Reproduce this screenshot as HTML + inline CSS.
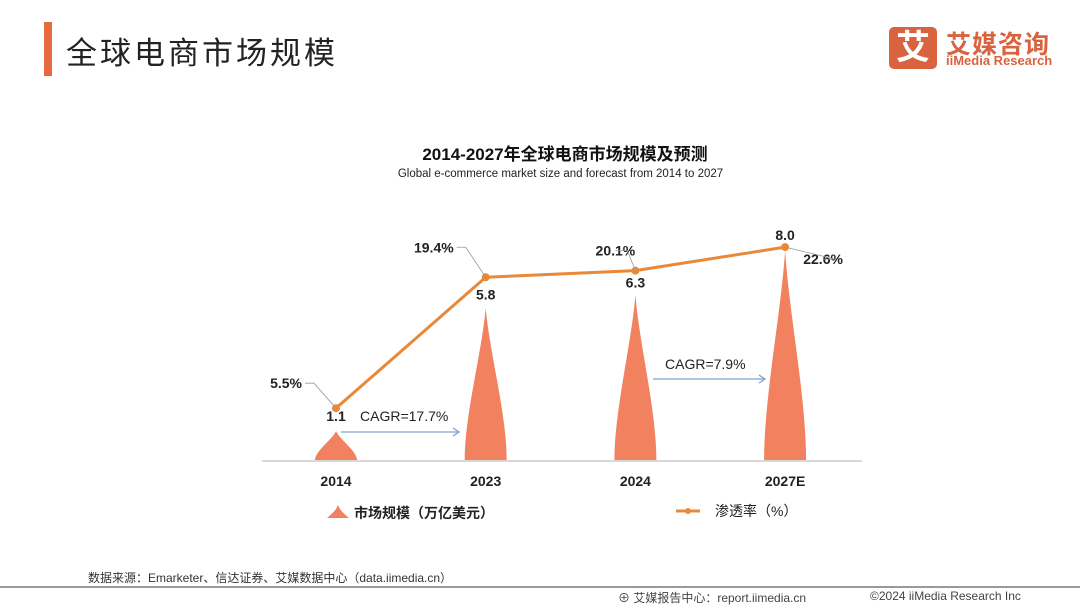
<!DOCTYPE html>
<html><head><meta charset="utf-8">
<style>
body{margin:0;width:1080px;height:608px;background:#fff;overflow:hidden;position:relative;font-family:"Liberation Sans","Noto Sans CJK SC",sans-serif}
.abs{position:absolute;white-space:nowrap}
</style></head><body>
<div class="abs" style="left:44px;top:22px;width:8px;height:54px;background:#E8683F"></div>
<div class="abs" style="left:66px;top:28px;font-size:31px;color:#222;letter-spacing:3px">全球电商市场规模</div>
<div class="abs" style="left:889px;top:27px;width:48px;height:42px;background:#D9633F;border-radius:5px;color:#fff;font-size:34px;line-height:42px;text-align:center;font-weight:bold">艾</div>
<div class="abs" style="left:946px;top:25px;font-size:25px;color:#D9633F;font-weight:bold;letter-spacing:1px">艾媒咨询</div>
<div class="abs" style="left:946px;top:53px;font-size:13px;color:#D9633F;font-weight:bold">iiMedia Research</div>
<div class="abs" style="left:0;width:1130px;text-align:center;top:140px;font-size:17px;font-weight:bold;color:#111">2014-2027年全球电商市场规模及预测</div>
<div class="abs" style="left:0;width:1121px;text-align:center;top:168px;font-size:11.5px;color:#222">Global e-commerce market size and forecast from 2014 to 2027</div>
<svg class="abs" style="left:0;top:0" width="1080" height="608">
<g id="g"></g>
</svg>
<div class="abs" style="left:88px;top:569px;font-size:12px;color:#333">数据来源：Emarketer、信达证券、艾媒数据中心（data.iimedia.cn）</div>
<div class="abs" style="left:0;top:586px;width:1080px;height:2px;background:#999"></div>
<div class="abs" style="left:618px;top:589px;font-size:12px;color:#444">⊕ 艾媒报告中心：report.iimedia.cn</div>
<div class="abs" style="left:870px;top:589px;font-size:12px;color:#444">©2024  iiMedia Research  Inc</div>
<script>
const categories=["2014","2023","2024","2027E"];
const marketSize=[1.1,5.8,6.3,8.0];
const penetration=[5.5,19.4,20.1,22.6];
const pctLabels=["5.5%","19.4%","20.1%","22.6%"];
const NS="http://www.w3.org/2000/svg",g=document.getElementById('g');
const base=460;
function xs(i){return 336+i*149.7;}
function ySize(v){return base-v*26.2;}
function yPct(v){return base-v*9.42;}
function mk(t,a,txt){const e=document.createElementNS(NS,t);for(const k in a)e.setAttribute(k,a[k]);if(txt!=null)e.textContent=txt;g.appendChild(e);return e;}
const ax=mk('line',{x1:262,x2:862,y1:base+1,y2:base+1,stroke:'#ccc','stroke-width':1.5});


categories.forEach((c,i)=>{
 const x=xs(i),top=ySize(marketSize[i]),h=base-top;
 const d=`M${x-21} ${base} C${x-21} ${base-h*0.3},${x-4} ${top+h*0.3},${x} ${top} C${x+4} ${top+h*0.3},${x+21} ${base-h*0.3},${x+21} ${base} Z`;
 const p=mk('path',{d:d,fill:'#F2825F'});
 
 
 const t=mk('text',{x:x,y:486,'text-anchor':'middle','font-size':14,'font-weight':'bold',fill:'#222'},c);
 
 
});
const pts=penetration.map((v,i)=>xs(i)+','+yPct(v)).join(' ');
const pl=mk('polyline',{points:pts,fill:'none',stroke:'#E8893A','stroke-width':3});


penetration.forEach((v,i)=>{
 const c=mk('circle',{cx:xs(i),cy:yPct(v),r:4,fill:'#E8893A'});
 
 
});
const sOff=[[0,-10],[0,20],[0,15],[0,-8]];
marketSize.forEach((v,i)=>{
 const yy=i==0?421:i==3?240:yPct(penetration[i])+sOff[i][1]+2;
 const t=mk('text',{x:xs(i),y:yy,'text-anchor':'middle','font-size':14,'font-weight':'bold',fill:'#222'},v.toFixed(1));
 
 
});
const pPos=[[-34,-25,'end'],[-32,-30,'end'],[-20,-20,'middle'],[38,12,'middle']];
penetration.forEach((v,i)=>{
 const x=xs(i),y=yPct(v),o=pPos[i];
 const t=mk('text',{x:x+o[0],y:y+o[1]+5,'text-anchor':o[2],'font-size':14,'font-weight':'bold',fill:'#222'},pctLabels[i]);
 
 
 const l=mk('polyline',{points:`${x+o[0]+(o[2]=='end'?3:0)},${y+o[1]} ${x+o[0]+12},${y+o[1]} ${x},${y}`,fill:'none',stroke:'#999','stroke-width':0.8});
 
 
});
function arrow(x1,x2,y,label,lx,ly,name){
 const a=mk('line',{x1:x1,x2:x2,y1:y,y2:y,stroke:'#7FA3D0','stroke-width':1.3});
 
 
 mk('polyline',{points:`${x2-6},${y-4} ${x2},${y} ${x2-6},${y+4}`,fill:'none',stroke:'#7FA3D0','stroke-width':1.3});
 const t=mk('text',{x:lx,y:ly,'font-size':14,fill:'#222'},label);
 
 
}
arrow(341,459,432,'CAGR=17.7%',360,421,'cagr-2014-2023');
arrow(653,765,379,'CAGR=7.9%',665,369,'cagr-2024-2027');
const lm=mk('path',{d:'M327 518 C333 513,336 510,338 505 C340 510,343 513,349 518 Z',fill:'#F2825F'});


const lt=mk('text',{x:354,y:518,'font-size':14,'font-weight':'bold',fill:'#222'},'市场规模（万亿美元）');


const ll=mk('line',{x1:676,x2:700,y1:511,y2:511,stroke:'#E8893A','stroke-width':3});


mk('circle',{cx:688,cy:511,r:3,fill:'#E8893A'});
const lt2=mk('text',{x:715,y:516,'font-size':14,fill:'#222'},'渗透率（%）');


</script>
</body></html>
